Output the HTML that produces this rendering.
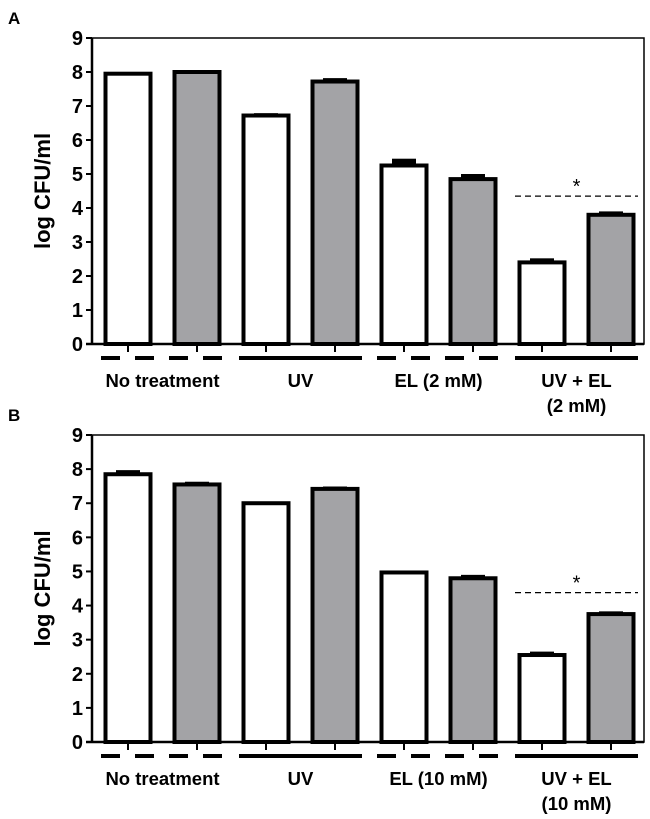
<!DOCTYPE html>
<html><head><meta charset="utf-8">
<style>
html,body{margin:0;padding:0;background:#fff;}
svg{display:block;font-family:"Liberation Sans",Arial,sans-serif;}
</style></head>
<body>
<svg id="chart" width="650" height="819" viewBox="0 0 650 819"></svg>
<script>
const groupsA = ["No treatment", "UV", "EL (2 mM)", "UV + EL|(2 mM)"];
const groupsB = ["No treatment", "UV", "EL (10 mM)", "UV + EL|(10 mM)"];
const valuesA = [7.95, 8.0, 6.72, 7.72, 5.25, 4.85, 2.4, 3.8];
const errorsA = [0.05, 0.03, 0.07, 0.1, 0.2, 0.15, 0.12, 0.1];
const valuesB = [7.85, 7.55, 7.0, 7.42, 4.97, 4.8, 2.55, 3.75];
const errorsB = [0.12, 0.08, 0.04, 0.07, 0.05, 0.1, 0.1, 0.08];
const yTicks = [0,1,2,3,4,5,6,7,8,9];
const sigLevelA = 4.35;
const sigLevelB = 4.38;
const groupStyle = ["dashed","solid","dashed","solid"];

const NS = "http://www.w3.org/2000/svg";
const svg = document.getElementById("chart");
function mk(tag, attrs, parent){
  const e = document.createElementNS(NS, tag);
  for (const k in attrs) e.setAttribute(k, attrs[k]);
  (parent||svg).appendChild(e);
  return e;
}

function panel(letter, top0, y9, groups, values, errors, sig, name){
  const g = mk("g", {});
  
  
  const left = 92, right = 644;
  const y = v => top0 + (y9 - top0) * (v / 9);
  const xc = i => 128 + i * 69;
  const bw = 45;

  const lt = mk("text", {x: 8, y: y9 - 14, "font-size": 17, "font-weight": "bold"}, g);
  lt.textContent = letter;
  
  

  const fr = mk("rect", {x: left, y: y9, width: right-left, height: top0-y9, fill: "none", stroke: "#000", "stroke-width": 1.5}, g);
  
  
  mk("line", {x1: left, x2: left, y1: y9, y2: top0, stroke: "#000", "stroke-width": 2.5}, g);
  mk("line", {x1: left-6, x2: right, y1: top0, y2: top0, stroke: "#000", "stroke-width": 2.5}, g);

  yTicks.forEach(t => {
    mk("line", {x1: left-6, x2: left, y1: y(t), y2: y(t), stroke: "#000", "stroke-width": 2}, g);
    const tx = mk("text", {x: left-9, y: y(t)+7, "font-size": 20, "font-weight": "bold", "text-anchor": "end"}, g);
    tx.textContent = t;
    
    
  });
  const yt = mk("text", {x: 0, y: 0, "font-size": 22, "font-weight": "bold", "text-anchor": "middle",
    transform: `translate(50 ${(y9+top0)/2}) rotate(-90)`}, g);
  yt.textContent = "log CFU/ml";
  
  

  values.forEach((v, i) => {
    const cx = xc(i);
    const eb = mk("rect", {x: cx-12, y: y(v+errors[i]), width: 24, height: Math.max(3, y(v)-y(v+errors[i])), fill: "#000"}, g);
    
    
    const b = mk("rect", {x: cx-bw/2, y: y(v), width: bw, height: top0 - y(v),
      fill: i % 2 ? "#a3a3a6" : "#fff", stroke: "#000", "stroke-width": 4}, g);
    
    
    mk("line", {x1: cx, x2: cx, y1: top0, y2: top0+8, stroke: "#000", "stroke-width": 2}, g);
  });

  groups.forEach((lab, k) => {
    const a = xc(2*k) - 27, b = xc(2*k+1) + 27;
    const ln = mk("line", {x1: a, x2: b, y1: top0+14, y2: top0+14, stroke: "#000", "stroke-width": 4,
      "stroke-dasharray": groupStyle[k] === "dashed" ? "19 15" : "none"}, g);
    
    
    const parts = lab.split("|");
    parts.forEach((p, j) => {
      const t = mk("text", {x: (a+b)/2, y: top0 + 43 + j*25, "font-size": 18.5, "font-weight": "bold", "text-anchor": "middle"}, g);
      t.textContent = p;
      
      
    });
  });

  const sl = mk("line", {x1: xc(6)-27, x2: xc(7)+27, y1: y(sig), y2: y(sig), stroke: "#000", "stroke-width": 1.2, "stroke-dasharray": "6 4"}, g);
  
  
  const st = mk("text", {x: (xc(6)+xc(7))/2, y: y(sig)-3, "font-size": 20, "text-anchor": "middle"}, g);
  st.textContent = "*";
  
  
}

panel("A", 344, 38, groupsA, valuesA, errorsA, sigLevelA, "panel-a");
panel("B", 742, 435, groupsB, valuesB, errorsB, sigLevelB, "panel-b");
</script>
</body></html>
